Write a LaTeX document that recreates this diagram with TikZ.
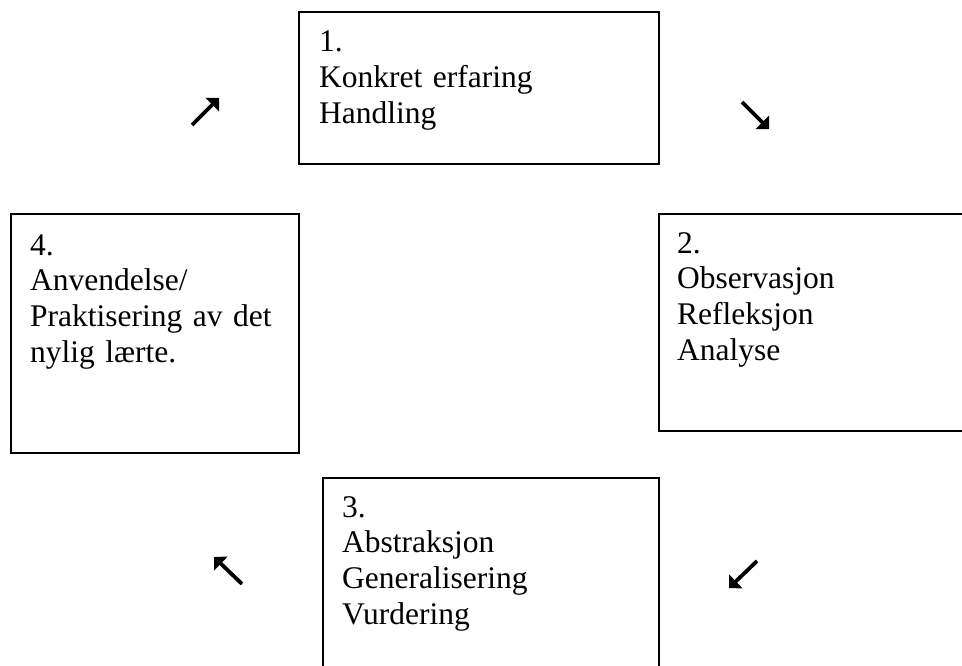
\documentclass[tikz,border=0pt]{standalone}
\usepackage{fontspec}
\setmainfont{Liberation Serif}
\usetikzlibrary{arrows.meta,calc}
\begin{document}
\begin{tikzpicture}[x=1pt,y=-1pt,
  box/.style={draw=black,line width=1.8pt,rectangle,inner sep=0pt,anchor=north west},
  txt/.style={anchor=base west,inner sep=0pt,align=left,text width=270pt,
    font={\fontsize{31.5}{35.8}\selectfont}},
  cyc/.style={line width=3.8pt,-{Triangle[length=9.5pt,width=19pt]}}]
\fill[white] (0,0) rectangle (962,666);
\useasboundingbox (0,0) rectangle (962,666);
% boxes
\node[box,minimum width=360pt,minimum height=152pt] (b1) at (298,11) {};
\node[box,minimum width=320pt,minimum height=217pt] (b2) at (658,213) {};
\node[box,minimum width=336pt,minimum height=210pt] (b3) at (322,477) {};
\node[box,minimum width=288pt,minimum height=239pt] (b4) at (10,213) {};
% texts
\node[txt] (t1) at ($(b1.north west)+(21,41)$) {1.\\Konkret erfaring\\Handling};
\node[txt] (t2) at ($(b2.north west)+(19,40)$) {2.\\Observasjon\\Refleksjon\\Analyse};
\node[txt] (t3) at ($(b3.north west)+(20,40)$) {3.\\Abstraksjon\\Generalisering\\Vurdering};
\node[txt] (t4) at ($(b4.north west)+(20,42)$) {4.\\Anvendelse/\\Praktisering av det\\nylig lærte.};
% arrows
\coordinate (a1s) at (192,125); \coordinate (a1e) at (219,98);
\coordinate (a2s) at (742,102); \coordinate (a2e) at (769,129);
\coordinate (a3s) at (757,561); \coordinate (a3e) at (729,588);
\coordinate (a4s) at (242,584); \coordinate (a4e) at (214,557);
\draw[cyc] (a1s) -- (a1e);
\draw[cyc] (a2s) -- (a2e);
\draw[cyc] (a3s) -- (a3e);
\draw[cyc] (a4s) -- (a4e);
\end{tikzpicture}
\end{document}
